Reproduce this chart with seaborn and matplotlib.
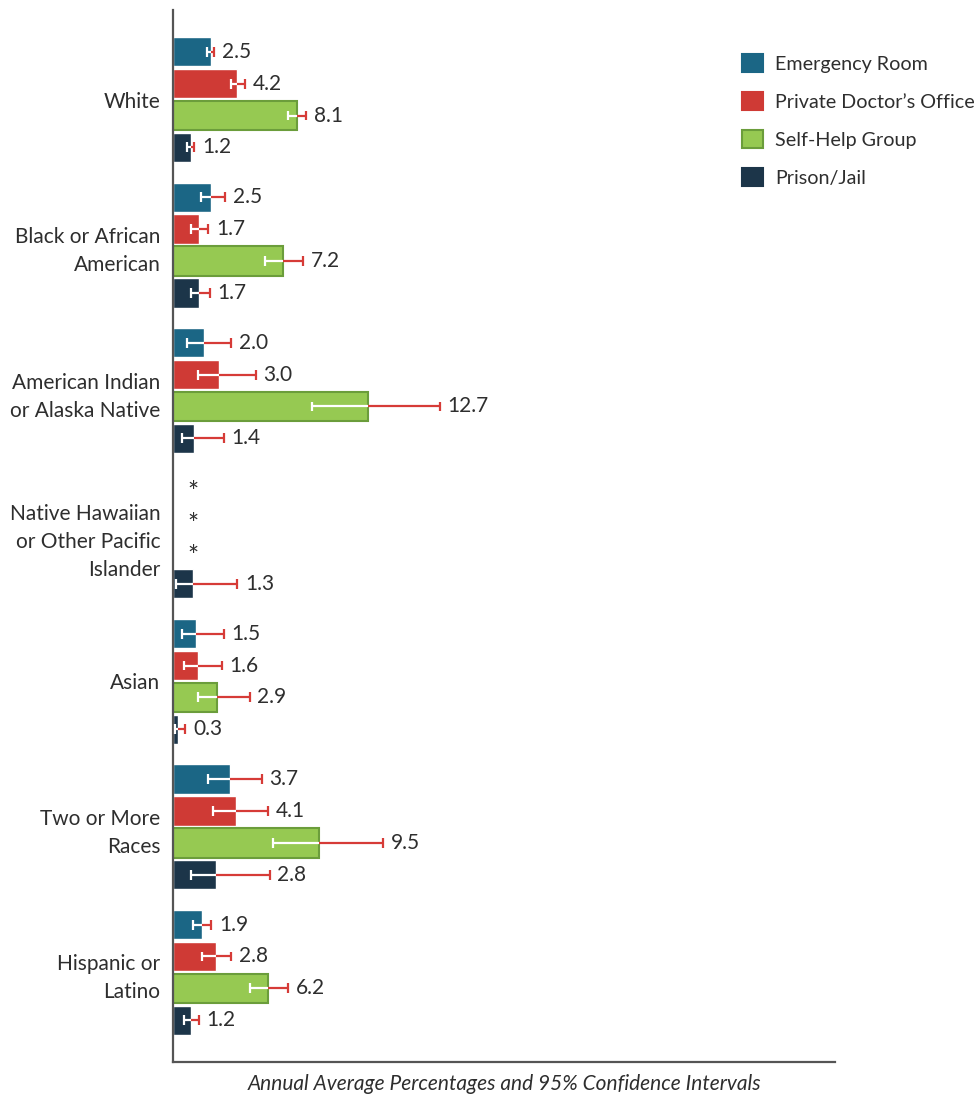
import numpy as np
import pandas as pd
import seaborn as sns
import matplotlib.pyplot as plt
from matplotlib.patches import Patch

# Data
groups = ['White', 'Black or African\nAmerican', 'American Indian\nor Alaska Native',
          'Native Hawaiian\nor Other Pacific\nIslander', 'Asian', 'Two or More\nRaces',
          'Hispanic or\nLatino']
series = ['Emergency Room', 'Private Doctor\u2019s Office', 'Self-Help Group', 'Prison/Jail']
nan = np.nan

er = [2.5, 2.5, 2.0, nan, 1.5, 3.7, 1.9]
er_lo = [2.2, 1.8, 0.9, nan, 0.6, 2.3, 1.3]
er_hi = [2.7, 3.4, 3.8, nan, 3.3, 5.8, 2.5]

pdo = [4.2, 1.7, 3.0, nan, 1.6, 4.1, 2.8]
pdo_lo = [3.8, 1.2, 1.6, nan, 0.7, 2.6, 1.9]
pdo_hi = [4.7, 2.3, 5.4, nan, 3.2, 6.2, 3.8]

shg = [8.1, 7.2, 12.7, nan, 2.9, 9.5, 6.2]
shg_lo = [7.5, 6.0, 9.1, nan, 1.6, 6.5, 5.0]
shg_hi = [8.7, 8.5, 17.4, nan, 5.0, 13.7, 7.5]

pj = [1.2, 1.7, 1.4, 1.3, 0.3, 2.8, 1.2]
pj_lo = [0.9, 1.2, 0.6, 0.2, 0.1, 1.2, 0.7]
pj_hi = [1.4, 2.4, 3.3, 4.2, 0.8, 6.3, 1.7]

colors = ['#1b6685', '#cf3a35', '#96c952', '#1c3549']
err_red = '#d63b37'
text_col = '#2e2e2e'

values = [er, pdo, shg, pj]
lows = [er_lo, pdo_lo, shg_lo, pj_lo]
highs = [er_hi, pdo_hi, shg_hi, pj_hi]

# long-form table for seaborn
rows = []
for s, vals in zip(series, values):
    for g, v in zip(groups, vals):
        rows.append({'group': g, 'series': s, 'value': v})
df = pd.DataFrame(rows)

sns.set_style('white')
plt.rcParams['font.family'] = ['Lato', 'DejaVu Sans']
fs = 15

fig = plt.figure(figsize=(9.75, 10.95), dpi=100)
ax = fig.add_axes([173 / 975, 1 - 1062 / 1095, (835 - 173) / 975, (1062 - 10) / 1095])

sns.barplot(data=df, x='value', y='group', hue='series', order=groups, hue_order=series,
            palette=colors, orient='h', width=0.876, gap=0.08, errorbar=None,
            saturation=1, legend=False, ax=ax)

ax.set_xlim(0, 43.2)
ax.set_ylim(6.616, -0.616)

# green bars have a darker outline
for bar in ax.containers[2]:
    bar.set_edgecolor('#6b9d3b')
    bar.set_linewidth(1.5)

cap = 0.034
offsets = []
for j, cont in enumerate(ax.containers):
    centers = [b.get_y() + b.get_height() / 2 for b in cont if b.get_width() == b.get_width()]
    offsets.append(np.median([c - round(c) for c in centers]))
    for i in range(len(groups)):
        v = values[j][i]
        y = i + offsets[j]
        if np.isnan(v):
            # no estimate shown
            ax.annotate('*', (1.3, y), xytext=(0, -4), textcoords='offset points',
                        ha='center', va='center', fontsize=19, color=text_col)
            continue
        lo, hi = lows[j][i], highs[j][i]
        ax.hlines(y, lo, v, color='white', lw=1.6, zorder=4)
        ax.vlines(lo, y - cap, y + cap, color='white', lw=1.6, zorder=4)
        ax.hlines(y, v, hi, color=err_red, lw=1.6, zorder=4)
        ax.vlines(hi, y - cap, y + cap, color=err_red, lw=1.6, zorder=4)
        ax.annotate(f'{v:.1f}', (hi, y), xytext=(5.5, 0), textcoords='offset points',
                    ha='left', va='center', fontsize=fs, color=text_col)

ax.set_ylabel('')
ax.set_xlabel('Annual Average Percentages and 95% Confidence Intervals',
              fontsize=fs, style='italic', color=text_col, labelpad=9)
ax.set_xticks([])
ax.set_yticks(range(len(groups)))
ax.set_yticklabels(groups, linespacing=1.5, multialignment='right')
ax.tick_params(axis='y', length=0, pad=9, labelsize=fs, labelcolor=text_col)

for side in ['top', 'right']:
    ax.spines[side].set_visible(False)
for side in ['left', 'bottom']:
    ax.spines[side].set_color('#555555')
    ax.spines[side].set_linewidth(1.6)

handles = [Patch(facecolor=c, edgecolor=('#6b9d3b' if k == 2 else c), linewidth=1.5)
           for k, c in enumerate(colors)]
fig.legend(handles, series, loc='upper left', bbox_to_anchor=(742 / 975, 1 - 54 / 1095),
           bbox_transform=fig.transFigure, frameon=False, fontsize=14.2,
           handlelength=1.05, handleheight=1.05, handletextpad=0.62, labelspacing=0.97,
           borderpad=0, borderaxespad=0, labelcolor=text_col)

fig.savefig('out.png', dpi=100)
